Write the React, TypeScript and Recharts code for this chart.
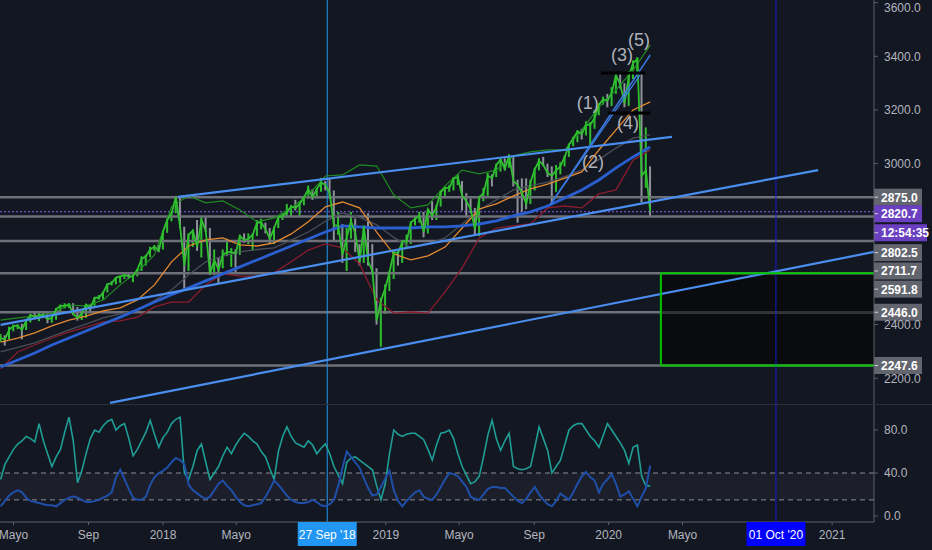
import React from "react";
import {
  ComposedChart, Line, Bar, Cell, XAxis, YAxis, ReferenceLine, ReferenceArea, ReferenceDot,
} from "recharts";

// weekly points, Mondays from 10 Apr 2017
const START = Date.UTC(2017, 3, 10);
const WEEK = 7 * 24 * 3600 * 1000;
const wk = (y: number, m: number, d: number) => (Date.UTC(y, m - 1, d) - START) / WEEK;

const X_DOMAIN: [number, number] = [-0.143, 204.37];
const PRICE_DOMAIN: [number, number] = [2104, 3610];
const OSC_DOMAIN: [number, number] = [-5.6, 103.3];

const CLOSE = [
  2350, 2345, 2380, 2395, 2395, 2380, 2415, 2435, 2430, 2435, 2435, 2420, 2425, 2458, 2470, 2470,
  2475, 2440, 2425, 2442, 2475, 2460, 2500, 2500, 2520, 2550, 2555, 2575, 2580, 2585, 2580, 2580,
  2605, 2645, 2655, 2680, 2690, 2675,
  2745, 2790, 2815, 2875, 2765, 2620, 2735, 2750, 2690, 2790, 2750, 2590, 2640, 2605, 2660, 2670,
  2670, 2665, 2730, 2715, 2720, 2735, 2780, 2780, 2755, 2720, 2760, 2800, 2805, 2820, 2840, 2835,
  2850, 2875, 2905, 2875, 2905, 2930, 2920, 2890, 2770, 2770, 2660, 2725, 2785, 2740, 2635, 2765,
  2635, 2600, 2415, 2490, 2535,
  2595, 2670, 2665, 2710, 2710, 2780, 2795, 2805, 2745, 2830, 2805, 2840, 2895, 2910, 2910, 2945,
  2950, 2880, 2860, 2830, 2755, 2875, 2890, 2955, 2945, 2995, 3015, 2980, 3030, 2935, 2920, 2890,
  2850, 2930, 2980, 3010, 2995, 2965, 2955, 2975, 2990, 3025, 3070, 3095, 3120, 3110, 3145, 3145,
  3170, 3220, 3240, 3235,
  3265, 3330, 3295, 3225, 3325, 3375, 3390, 2955, 2975, 2820.7,
];
const LOW = [
  2335, 2322, 2345, 2375, 2383, 2345, 2380, 2408, 2420, 2413, 2425, 2405, 2407, 2418, 2450, 2460,
  2462, 2435, 2415, 2417, 2425, 2446, 2470, 2493, 2494, 2520, 2546, 2550, 2555, 2570, 2570, 2558,
  2580, 2600, 2620, 2652, 2675, 2670,
  2680, 2742, 2785, 2815, 2760, 2529, 2600, 2690, 2675, 2650, 2745, 2585, 2585, 2555, 2610, 2655,
  2615, 2595, 2660, 2705, 2700, 2675, 2730, 2755, 2740, 2700, 2700, 2760, 2790, 2800, 2805, 2825,
  2800, 2845, 2870, 2865, 2870, 2895, 2900, 2870, 2710, 2735, 2630, 2600, 2720, 2670, 2620, 2630,
  2620, 2590, 2400, 2317, 2440,
  2525, 2570, 2620, 2630, 2685, 2700, 2770, 2780, 2725, 2740, 2790, 2790, 2840, 2880, 2895, 2900,
  2920, 2825, 2800, 2815, 2735, 2730, 2860, 2880, 2915, 2950, 2970, 2975, 2985, 2915, 2780, 2820,
  2830, 2850, 2900, 2975, 2990, 2950, 2855, 2895, 2960, 2990, 3025, 3065, 3080, 3090, 3105, 3070,
  3130, 3180, 3220, 3210,
  3215, 3260, 3280, 3210, 3215, 3315, 3330, 2855, 2910, 2800,
];
const HIGH = [
  2365, 2360, 2392, 2400, 2402, 2403, 2418, 2440, 2446, 2446, 2445, 2450, 2432, 2462, 2475, 2480,
  2480, 2480, 2466, 2450, 2477, 2475, 2502, 2510, 2521, 2553, 2562, 2576, 2582, 2590, 2595, 2590,
  2607, 2655, 2660, 2690, 2697, 2695,
  2750, 2795, 2820, 2880, 2872, 2765, 2740, 2755, 2790, 2800, 2800, 2760, 2680, 2650, 2680, 2720,
  2685, 2680, 2735, 2740, 2740, 2740, 2790, 2795, 2780, 2760, 2765, 2805, 2815, 2850, 2845, 2865,
  2860, 2880, 2918, 2905, 2910, 2947, 2935, 2945, 2900, 2820, 2775, 2760, 2820, 2795, 2700, 2770,
  2815, 2700, 2610, 2500, 2550,
  2600, 2675, 2675, 2715, 2735, 2785, 2800, 2820, 2820, 2830, 2860, 2845, 2900, 2915, 2920, 2950,
  2960, 2935, 2890, 2870, 2835, 2880, 2910, 2965, 2960, 3000, 3020, 3020, 3035, 3030, 2940, 2945,
  2945, 2940, 2985, 3020, 3025, 3000, 2990, 2995, 3005, 3030, 3075, 3100, 3125, 3130, 3158, 3155,
  3200, 3225, 3250, 3260,
  3285, 3335, 3335, 3300, 3345, 3385, 3397, 3335, 3135, 2990,
];

// indicator lines, read every 4 weeks
const IND_STEP = 4;
const ORANGE = [2335, 2350, 2369, 2395, 2417, 2432, 2451, 2462, 2492, 2548, 2634, 2693, 2716, 2723, 2697, 2693, 2705, 2738, 2783, 2839, 2857, 2835, 2745, 2663, 2641, 2656, 2689, 2760, 2831, 2850, 2880, 2906, 2924, 2946, 2969, 3051, 3126, 3200, 3230];
const RED = [2235, 2298, 2324, 2350, 2373, 2391, 2410, 2414, 2428, 2466, 2484, 2484, 2548, 2589, 2581, 2581, 2593, 2634, 2678, 2701, 2686, 2626, 2492, 2443, 2447, 2443, 2522, 2611, 2723, 2760, 2768, 2775, 2835, 2842, 2835, 2887, 2902, 3013, 3051];
const BLUE_MA = [2242, 2268, 2294, 2324, 2350, 2376, 2402, 2428, 2455, 2484, 2511, 2537, 2563, 2589, 2615, 2641, 2667, 2693, 2719, 2745, 2768, 2764, 2760, 2760, 2760, 2764, 2764, 2768, 2775, 2787, 2805, 2820, 2842, 2872, 2902, 2939, 2984, 3025, 3062];
const UPPER_BAND = [2417, 2425, 2432, 2443, 2473, 2470, 2492, 2548, 2597, 2660, 2840, 2880, 2854, 2861, 2827, 2783, 2798, 2835, 2883, 2954, 2958, 2995, 2991, 2883, 2835, 2846, 2917, 2976, 2962, 2976, 3029, 3044, 3051, 3051, 3126, 3211, 3275, 3349, 3442];
const GREY_MA = [2298, 2315, 2332, 2356, 2380, 2402, 2425, 2440, 2455, 2490, 2529, 2585, 2634, 2655, 2671, 2680, 2686, 2715, 2745, 2785, 2816, 2800, 2772, 2725, 2686, 2700, 2723, 2775, 2827, 2865, 2902, 2918, 2931, 2952, 2976, 3015, 3058, 3095, 3107];

const OSC_TEAL = [
  34, 48, 55, 62, 67, 70, 74, 72, 69, 86, 70, 58, 46, 55, 62, 78, 92, 70, 31, 42, 58, 72, 80, 78, 84, 88,
  90, 80, 84, 86, 72, 56, 62, 70, 78, 89, 76, 64, 73, 78, 86, 90, 92, 40, 34, 46, 61, 67, 50, 34, 40, 46,
  56, 64, 58, 66, 72, 77, 74, 70, 67, 60, 55, 44, 34, 60, 74, 83, 74, 68, 66, 64, 70, 66, 58, 63, 67, 58,
  46, 38, 30, 50, 54, 55, 52, 49, 46, 43, 28, 15, 30, 58, 80, 76, 74, 76, 77, 77, 74, 71, 62, 52, 66, 77,
  78, 80, 72, 58, 46, 38, 30, 32, 37, 55, 75, 89, 72, 61, 70, 77, 46, 44, 43, 44, 46, 64, 83, 72, 61, 40,
  46, 52, 66, 80, 84, 86, 86, 80, 74, 70, 64, 75, 86, 80, 74, 68, 61, 49, 64, 66, 37, 28, 28,
];
const OSC_BLUE = [
  9, 14, 19, 22, 24, 22, 17, 14, 13, 12, 11, 10, 10, 9, 12, 15, 17, 18, 17, 15, 13, 13, 14, 15, 17, 19,
  22, 36, 43, 34, 25, 17, 15, 15, 18, 29, 36, 40, 42, 45, 50, 54, 52, 48, 29, 24, 21, 18, 16, 18, 24, 30,
  33, 28, 24, 18, 13, 10, 9, 10, 11, 12, 18, 25, 33, 29, 24, 19, 15, 13, 12, 12, 13, 15, 13, 10, 9, 11,
  15, 28, 45, 60, 55, 50, 45, 35, 26, 19, 20, 27, 35, 42, 24, 14, 9, 14, 18, 22, 24, 18, 16, 15, 20, 27,
  34, 40, 39, 37, 32, 27, 18, 16, 15, 20, 25, 27, 27, 26, 26, 22, 18, 14, 12, 16, 22, 27, 20, 15, 11, 9,
  14, 21, 18, 15, 22, 30, 37, 41, 36, 33, 22, 30, 34, 39, 30, 18, 20, 23, 16, 9, 18, 26, 47,
];
const OSC_BAND: [number, number] = [15, 40];

// drawn levels and tags on the price scale
const LEVELS = [2875.0, 2802.5, 2711.7, 2591.8, 2446.0, 2247.6];
const LEVEL_TAG_SHIFT = [0, 36, 30, 16, 0, 0];
const LAST_PRICE = 2820.7;
const COUNTDOWN = "12:54:35";
const BOX = { w1: 154.5, w2: 204.37, low: 2247.6, high: 2591.8 };

const TREND_LINES: [number, number, number, number][] = [
  [41.5, 2876, 157.1, 3100],
  [0, 2399, 191.3, 2976],
  [25.6, 2108, 204.37, 2671],
];
const WAVE_LINES: [number, number, number, number][] = [
  [128.6, 2846, 152, 3405],
  [128.6, 2846, 149.6, 3330],
];
const BLACK_MARKS: [number, number, number][] = [
  [140.5, 150.8, 3338],
  [142.1, 152, 3189],
];
const WAVE_LABELS = ["(1)", "(2)", "(3)", "(4)", "(5)"];
const WAVE_W = [137.4, 138.6, 145.4, 146.8, 149.4];
const WAVE_P = [3226, 3006, 3405, 3152, 3461];

const PRICE_TICKS = [2200, 2400, 3000, 3200, 3400, 3600];
const OSC_TICKS = [0, 40, 80];
const TIME_LABELS = ["Mayo", "Sep", "2018", "Mayo", "27 Sep '18", "2019", "Mayo", "Sep", "2020", "Mayo", "01 Oct '20", "2021"];
const TIME_TICKS = [
  wk(2017, 5, 1), wk(2017, 9, 1), wk(2018, 1, 1), wk(2018, 5, 1), wk(2018, 9, 27), wk(2019, 1, 1),
  wk(2019, 5, 1), wk(2019, 9, 1), wk(2020, 1, 1), wk(2020, 5, 1), wk(2020, 10, 1), wk(2021, 1, 1),
];
const MARKED: Record<string, string> = { "27 Sep '18": "#2196f3", "01 Oct '20": "#0000ff" };
const V_LINES = [
  { w: wk(2018, 9, 27), color: "#2196f3" },
  { w: wk(2020, 10, 1), color: "#1a1ad0" },
];

const BG = "#131722";
const AXIS = "#5d606b";
const TEXT = "#b2b5be";
const UP = "#2fbf2f";
const DOWN = "#8f9299";

const rows = CLOSE.map((c, i) => ({
  w: i, close: c, range: [LOW[i], HIGH[i]], teal: OSC_TEAL[i], dmi: OSC_BLUE[i],
}));
const indRows = ORANGE.map((v, k) => ({
  w: k * IND_STEP, orange: v, red: RED[k], blueMa: BLUE_MA[k], band: UPPER_BAND[k], grey: GREY_MA[k],
}));

function Tag({ viewBox, text, bg, shift, width = 48 }: any) {
  if (!viewBox) return null;
  const x = viewBox.x + viewBox.width;
  const y = viewBox.y + shift;
  return (
    <g>
      <rect x={x} y={y - 8.5} width={width} height={17} fill={bg} />
      <line x1={x} x2={x + 4} y1={y} y2={y} stroke="#d1d4dc" />
      <text x={x + 7} y={y + 4.5} fill="#ffffff" fontSize={12} fontWeight={600}>{text}</text>
    </g>
  );
}

function TimeTick({ x, y, payload, index }: any) {
  const label = TIME_LABELS[index ?? payload.index] ?? "";
  const bg = MARKED[label];
  return (
    <g>
      {bg && <rect x={x - 29.5} y={y - 5} width={59} height={24} fill={bg} />}
      <text x={x} y={y + 12} textAnchor="middle" fill={bg ? "#ffffff" : TEXT} fontSize={12}>
        {label}
      </text>
    </g>
  );
}

function WaveLabel({ viewBox, text }: any) {
  if (!viewBox) return null;
  const cx = viewBox.x + viewBox.width / 2;
  const cy = viewBox.y + viewBox.height / 2;
  return (
    <text x={cx} y={cy + 6} textAnchor="middle" fill="#aeb1ba" fontSize={18}>{text}</text>
  );
}

const seg = (w1: number, p1: number, w2: number, p2: number) => [{ x: w1, y: p1 }, { x: w2, y: p2 }];
const plain = { dot: false, activeDot: false, legendType: "none" as const, isAnimationActive: false };

function PriceChart() {
  return (
    <ComposedChart width={932} height={404} data={rows} margin={{ top: 0, right: 0, bottom: 0, left: 0 }}>
      <XAxis type="number" dataKey="w" domain={X_DOMAIN} allowDataOverflow hide />
      <YAxis
        orientation="right" width={58} domain={PRICE_DOMAIN} allowDataOverflow ticks={PRICE_TICKS}
        tickFormatter={(v) => Number(v).toFixed(1)} tick={{ fill: TEXT, fontSize: 12 }}
        tickSize={4} tickMargin={6} axisLine={{ stroke: AXIS }} tickLine={{ stroke: AXIS }}
      />
      <ReferenceArea
        x1={BOX.w1} x2={BOX.w2} y1={BOX.low} y2={BOX.high}
        fill="#08090c" fillOpacity={0.85} stroke="none" ifOverflow="visible"
      />
      {LEVELS.map((p) => (
        <ReferenceLine key={p} y={p} stroke="#6f7179" strokeWidth={2.5} ifOverflow="visible" />
      ))}
      <ReferenceLine
        segment={seg(BOX.w1, LEVELS[4], BOX.w2, LEVELS[4])} stroke="#2e3034" strokeWidth={2.5} ifOverflow="visible"
      />
      {V_LINES.map((v) => (
        <ReferenceLine key={v.w} x={v.w} stroke={v.color} strokeWidth={1} />
      ))}
      <ReferenceLine y={LAST_PRICE} stroke="#8a5ce6" strokeDasharray="2 2" strokeWidth={1} />
      <Line {...plain} data={indRows} dataKey="grey" stroke="#4a4e58" strokeWidth={1.3} />
      <Line {...plain} data={indRows} dataKey="red" stroke="#8c1d2e" strokeWidth={1.3} />
      <Line {...plain} data={indRows} dataKey="band" stroke="#1f8a22" strokeWidth={1.2} />
      <Line {...plain} data={indRows} dataKey="orange" stroke="#e58a30" strokeWidth={1.3} />
      <Line {...plain} data={indRows} dataKey="blueMa" stroke="#2a5fd0" strokeWidth={2.8} />
      <Bar dataKey="range" barSize={2} isAnimationActive={false} legendType="none">
        {rows.map((r, i) => (
          <Cell key={i} fill={i > 0 && r.close < CLOSE[i - 1] ? DOWN : UP} />
        ))}
      </Bar>
      <Line {...plain} dataKey="close" stroke={UP} strokeWidth={1.8} />
      {TREND_LINES.map(([w1, p1, w2, p2], i) => (
        <ReferenceLine key={"t" + i} segment={seg(w1, p1, w2, p2)} stroke="#4a8ef0" strokeWidth={2.2} ifOverflow="visible" />
      ))}
      {WAVE_LINES.map(([w1, p1, w2, p2], i) => (
        <ReferenceLine key={"wv" + i} segment={seg(w1, p1, w2, p2)} stroke="#3b7be0" strokeWidth={1.4} ifOverflow="visible" />
      ))}
      {BLACK_MARKS.map(([w1, w2, p], i) => (
        <ReferenceLine key={"b" + i} segment={seg(w1, p, w2, p)} stroke="#000000" strokeWidth={3} ifOverflow="visible" />
      ))}
      {/* green box outline */}
      <ReferenceLine segment={seg(BOX.w1, BOX.high, BOX.w2, BOX.high)} stroke="#00c400" strokeWidth={2} ifOverflow="visible" />
      <ReferenceLine segment={seg(BOX.w1, BOX.low, BOX.w2, BOX.low)} stroke="#00c400" strokeWidth={2} ifOverflow="visible" />
      <ReferenceLine segment={seg(BOX.w1, BOX.low, BOX.w1, BOX.high)} stroke="#00c400" strokeWidth={2} ifOverflow="visible" />
      {WAVE_LABELS.map((t, i) => (
        <ReferenceDot
          key={t} x={WAVE_W[i]} y={WAVE_P[i]} r={1} fill="none" stroke="none"
          label={(props: any) => <WaveLabel {...props} text={t} />}
        />
      ))}
      {LEVELS.map((p, i) => (
        <ReferenceLine
          key={"tag" + p} y={p} stroke="none" ifOverflow="visible"
          label={(props: any) => <Tag {...props} text={p.toFixed(1)} bg="#62656e" shift={LEVEL_TAG_SHIFT[i]} />}
        />
      ))}
      <ReferenceLine
        y={LAST_PRICE} stroke="none"
        label={(props: any) => <Tag {...props} text={LAST_PRICE.toFixed(1)} bg="#6a3fc0" shift={2} />}
      />
      <ReferenceLine
        y={LAST_PRICE} stroke="none"
        label={(props: any) => <Tag {...props} text={COUNTDOWN} bg="#6a3fc0" shift={21} width={53} />}
      />
    </ComposedChart>
  );
}

function OscChart() {
  return (
    <ComposedChart width={932} height={145} data={rows} margin={{ top: 0, right: 0, bottom: 0, left: 0 }}>
      <XAxis
        type="number" dataKey="w" domain={X_DOMAIN} allowDataOverflow ticks={TIME_TICKS} interval={0}
        height={28} tickSize={3} tickMargin={2} axisLine={{ stroke: AXIS }} tickLine={{ stroke: AXIS }}
        tick={(props: any) => <TimeTick {...props} />}
      />
      <YAxis
        orientation="right" width={58} domain={OSC_DOMAIN} allowDataOverflow ticks={OSC_TICKS}
        tickFormatter={(v) => Number(v).toFixed(1)} tick={{ fill: TEXT, fontSize: 12 }}
        tickSize={4} tickMargin={6} axisLine={{ stroke: AXIS }} tickLine={{ stroke: AXIS }}
      />
      <ReferenceArea y1={OSC_BAND[0]} y2={OSC_BAND[1]} fill="#787b86" fillOpacity={0.09} stroke="none" />
      {OSC_BAND.map((v) => (
        <ReferenceLine key={v} y={v} stroke="#8a8d96" strokeDasharray="5 4" strokeWidth={1} />
      ))}
      {V_LINES.map((v) => (
        <ReferenceLine key={v.w} x={v.w} stroke={v.color} strokeWidth={1} />
      ))}
      <Line {...plain} dataKey="teal" stroke="#1f9e96" strokeWidth={1.6} />
      <Line {...plain} dataKey="dmi" stroke="#1f4fa8" strokeWidth={2} />
    </ComposedChart>
  );
}

export default function App() {
  return (
    <div
      style={{
        position: "absolute", left: 0, top: 0, width: 932, height: 550, background: BG,
        fontFamily: "'Liberation Sans', Arial, sans-serif", overflow: "hidden",
      }}
    >
      <PriceChart />
      <div style={{ height: 1, background: "#2a2e39" }} />
      <OscChart />
    </div>
  );
}
